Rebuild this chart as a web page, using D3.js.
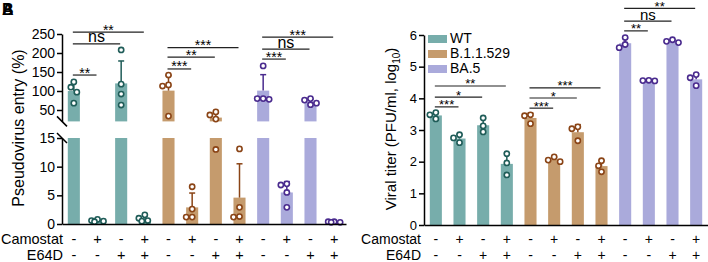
<!DOCTYPE html>
<html>
<head>
<meta charset="utf-8">
<script src="https://cdn.jsdelivr.net/npm/d3@7"></script>
<style>
  body { margin: 0; background: #fff; }
  svg { display: block; font-family: Arial, "Liberation Sans", sans-serif; }
</style>
</head>
<body>
<div id="chart"></div>
<script>
const variants = ["WT", "B.1.1.529", "BA.5"];
const camostat = ["-", "+", "-", "+"];
const e64d = ["-", "-", "+", "+"];
const barColors = ["#77adab", "#c59b6d", "#aaaadb"];
const dotColors = ["#1f5c58", "#8a4416", "#4a2b8e"];

// A: pseudovirus entry (%), 12 bars = 3 variants x 4 treatments
const entryMean = [100, 0.6, 120, 0.9, 101, 2.9, 30, 4.6, 101, 5.5, 72, 0.35];
const entrySd = [24, 0.2, 59, 0.5, 40, 2.5, 13, 5.9, 42, 1.9, 7, 0.05];
const entryDots = [
    [124, 110, 97, 68], [0.4, 0.8, 0.6, 0.5], [208, 118, 92, 63], [1.6, 1.0, 0.5, 0.6],
    [142, 116, 113, 34], [6.5, 2.6, 1.2, 1.2], [45, 37, 26, 13], [13.1, 2.9, 1.2, 1.3],
    [166, 80, 78, 80], [7.0, 6.8, 5.5, 2.9], [80, 76, 68, 64], [0.3, 0.4, 0.4, 0.3]
];
const entryUpperTicks = [50, 100, 150, 200, 250];
const entryLowerTicks = [0, 5, 10, 15];
// [from bar, to bar, label, level]
const entrySig = [
    [0, 1, "**", 142], [0, 2, "ns", 224], [0, 3, "**", 255],
    [4, 5, "***", 158], [4, 6, "**", 189], [4, 7, "***", 214],
    [8, 9, "***", 184], [8, 10, "ns", 210], [8, 11, "***", 242]
];

// B: viral titer (PFU/ml, log10)
const titerMean = [3.46, 2.73, 3.15, 1.93, 3.38, 2.07, 2.93, 1.86, 5.74, 4.56, 5.80, 4.60];
const titerSd = [0.1, 0.13, 0.22, 0.34, 0.15, 0.08, 0.24, 0.18, 0.16, 0.02, 0.05, 0.18];
const titerDots = [
    [3.55, 3.48, 3.35], [2.85, 2.75, 2.6], [3.38, 3.13, 2.94], [2.25, 1.96, 1.58],
    [3.48, 3.45, 3.2], [2.15, 2.05, 2.0], [3.1, 3.04, 2.66], [2.03, 1.87, 1.68],
    [5.92, 5.7, 5.6], [4.57, 4.56, 4.55], [5.85, 5.8, 5.76], [4.75, 4.65, 4.4]
];
const titerTicks = [0, 1, 2, 3, 4, 5, 6];
const titerSig = [
    [0, 1, "***", 3.73], [0, 2, "*", 4.04], [0, 3, "**", 4.39],
    [4, 5, "***", 3.69], [4, 6, "*", 4.01], [4, 7, "***", 4.33],
    [8, 9, "**", 6.13], [8, 10, "ns", 6.44], [8, 11, "**", 6.84]
];

const svg = d3.select("#chart")
              .append("svg")
              .attr("width", 708)
              .attr("height", 262);

const bars = d3.range(12);
const variantOf = i => Math.floor(i / 4);

// small beeswarm so dots at the same height sit side by side
function swarm(vals, y, r) {
    const placed = [];
    const offsets = [0, -1, 1, -2, 2, -1.5, 1.5].map(k => k * r * 1.15);
    vals.map(v => y(v)).sort((a, b) => a - b).forEach(py => {
        let best = 0, bestDist = -1;
        for (const dx of offsets) {
            const dmin = d3.min(placed, p => Math.hypot(p[0] - dx, p[1] - py)) ?? Infinity;
            if (dmin >= 2 * r + 0.6) { best = dx; bestDist = Infinity; break; }
            if (dmin > bestDist) { bestDist = dmin; best = dx; }
        }
        placed.push([best, py]);
    });
    return placed;
}

function drawPoints(g, x, y, means, sds, dots) {
    const w = x.bandwidth();
    bars.forEach(i => {
        const cx = x(i) + w / 2;
        const col = dotColors[variantOf(i)];
        const top = y(means[i] + sds[i]);
        g.append("line")
         .attr("x1", cx).attr("x2", cx)
         .attr("y1", y(means[i])).attr("y2", top)
         .attr("stroke", col).attr("stroke-width", 1.5);
        g.append("line")
         .attr("x1", cx - 3).attr("x2", cx + 3)
         .attr("y1", top).attr("y2", top)
         .attr("stroke", col).attr("stroke-width", 1.5);
        g.selectAll(null)
         .data(swarm(dots[i], y, 2.6))
         .join("circle")
         .attr("cx", d => cx + d[0])
         .attr("cy", d => d[1])
         .attr("r", 2.6)
         .attr("fill", "#fff")
         .attr("stroke", col)
         .attr("stroke-width", 1.6);
    });
}

function drawSig(g, x, y, sig, starSize, nsSize) {
    const w = x.bandwidth();
    sig.forEach(([a, b, label, level]) => {
        const x1 = x(a) + w / 2 - 1, x2 = x(b) + w / 2 - 1, ly = y(level);
        g.append("line")
         .attr("x1", x1).attr("x2", x2)
         .attr("y1", ly).attr("y2", ly)
         .attr("stroke", "#222").attr("stroke-width", 1.2);
        const isNs = label === "ns";
        g.append("text")
         .attr("x", (x1 + x2) / 2)
         .attr("y", isNs ? ly - 1.5 : ly + 2.5)
         .attr("text-anchor", "middle")
         .style("font-size", (isNs ? nsSize : starSize) + "px")
         .text(label);
    });
}

function drawTreatments(g, x, labelX, size) {
    const w = x.bandwidth();
    [["Camostat", camostat, 244], ["E64D", e64d, 260]].forEach(([name, signs, ty]) => {
        g.append("text")
         .attr("x", labelX).attr("y", ty)
         .attr("text-anchor", "end")
         .style("font-size", size + "px")
         .text(name);
        g.selectAll(null)
         .data(bars)
         .join("text")
         .attr("x", i => x(i) + w / 2)
         .attr("y", ty)
         .attr("text-anchor", "middle")
         .style("font-size", size + "px")
         .text(i => signs[i % 4]);
    });
}

function styleAxis(g, fontSize) {
    g.selectAll("path.domain").attr("stroke-width", 1.5);
    g.selectAll(".tick line").attr("stroke-width", 1.5);
    g.selectAll(".tick text").style("font-size", fontSize + "px").attr("fill", "#000");
    g.attr("font-family", null);
}

// ---------- Panel A (broken axis) ----------
const gA = svg.append("g");
const xA = d3.scaleBand().domain(bars).range([62, 346]).paddingInner(0.49).paddingOuter(0.245);
const yUp = d3.scaleLinear().domain([20, 250]).range([121.4, 34]);
const yLow = d3.scaleLinear().domain([0, 15]).range([224, 138]);
const yA = v => v > 17.5 ? yUp(v) : yLow(v);

bars.forEach(i => {
    const m = entryMean[i];
    const fill = barColors[variantOf(i)];
    const top = m > 15 ? yLow(15) : yLow(m);
    gA.append("rect")
      .attr("x", xA(i)).attr("width", xA.bandwidth())
      .attr("y", top).attr("height", yLow(0) - top)
      .attr("fill", fill);
    if (m > 20) {
        gA.append("rect")
          .attr("x", xA(i)).attr("width", xA.bandwidth())
          .attr("y", yUp(m)).attr("height", yUp(20) - yUp(m))
          .attr("fill", fill);
    }
});

drawPoints(gA, xA, yA, entryMean, entrySd, entryDots);

const axUp = gA.append("g").attr("transform", "translate(62,0)")
    .call(d3.axisLeft(yUp).tickValues(entryUpperTicks).tickSize(5).tickSizeOuter(0).tickPadding(2));
styleAxis(axUp, 14);
const axLow = gA.append("g").attr("transform", "translate(62,0)")
    .call(d3.axisLeft(yLow).tickValues(entryLowerTicks).tickSize(5).tickSizeOuter(0).tickPadding(2));
styleAxis(axLow, 14);
// break marks
[yUp(20), yLow(15)].forEach(by => {
    gA.append("line")
      .attr("x1", 57).attr("y1", by - 5).attr("x2", 67).attr("y2", by + 5)
      .attr("stroke", "#000").attr("stroke-width", 1.5);
});
const baseA = gA.append("g").attr("transform", `translate(0,${yLow(0)})`)
    .call(d3.axisBottom(xA).tickValues([]).tickSizeOuter(0));
baseA.select("path.domain").attr("stroke-width", 1.5);

drawSig(gA, xA, yUp, entrySig, 14, 16);
drawTreatments(gA, xA, 63, 14.5);

gA.append("text")
  .attr("transform", "translate(24,128) rotate(-90)")
  .attr("text-anchor", "middle")
  .style("font-size", "16px")
  .text("Pseudovirus entry (%)");

// ---------- Panel B ----------
const gB = svg.append("g");
const xB = d3.scaleBand().domain(bars).range([424, 708]).paddingInner(0.49).paddingOuter(0.245);
const yB = d3.scaleLinear().domain([0, 6]).range([225, 35]);

gB.selectAll(".bar")
  .data(bars)
  .join("rect")
  .attr("x", i => xB(i))
  .attr("width", xB.bandwidth())
  .attr("y", i => yB(titerMean[i]))
  .attr("height", i => yB(0) - yB(titerMean[i]))
  .attr("fill", i => barColors[variantOf(i)]);

drawPoints(gB, xB, yB, titerMean, titerSd, titerDots);

const axB = gB.append("g").attr("transform", "translate(424,0)")
    .call(d3.axisLeft(yB).tickValues(titerTicks).tickFormat(d3.format("d"))
            .tickSize(5).tickSizeOuter(0).tickPadding(2));
styleAxis(axB, 13);
const baseB = gB.append("g").attr("transform", `translate(0,${yB(0)})`)
    .call(d3.axisBottom(xB).tickValues([]).tickSizeOuter(0));
baseB.select("path.domain").attr("stroke-width", 1.5);

drawSig(gB, xB, yB, titerSig, 13, 15);
drawTreatments(gB, xB, 421, 14);

const titleB = gB.append("text")
  .attr("transform", "translate(396,129) rotate(-90)")
  .attr("text-anchor", "middle")
  .style("font-size", "15px");
titleB.append("tspan").text("Viral titer (PFU/ml, log");
titleB.append("tspan").attr("dy", 4).style("font-size", "10px").text("10");
titleB.append("tspan").attr("dy", -4).text(")");

// Legend
const legend = gB.selectAll(".legend")
                 .data(variants)
                 .join("g")
                 .attr("transform", (d, i) => `translate(428, ${43 + i * 15})`);
legend.append("rect")
      .attr("y", -8).attr("width", 19).attr("height", 8)
      .attr("fill", (d, i) => barColors[i]);
legend.append("text")
      .attr("x", 22)
      .style("font-size", "14px")
      .text(d => d);

// panel letters (overlapping in the source)
["B", "A"].forEach(t => {
    svg.append("text")
       .attr("x", 2).attr("y", 15)
       .style("font-size", "16px")
       .style("font-weight", "bold")
       .text(t);
});
</script>
</body>
</html>
